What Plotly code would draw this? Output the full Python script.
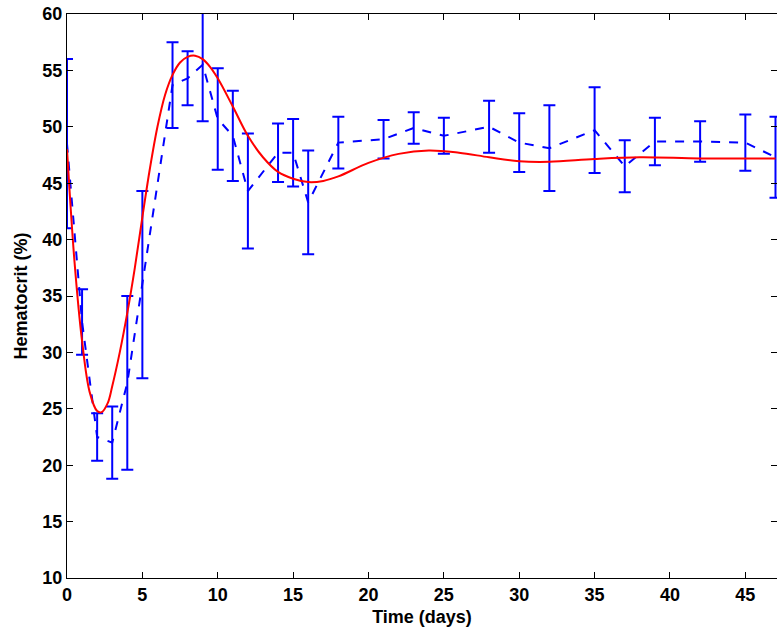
import plotly.graph_objects as go

# measured data (dashed, with error bars)
t_data = [0, 1, 2, 3, 4, 5, 7, 8, 9, 10, 11, 12, 14, 15, 16, 18, 21, 23, 25, 28, 30, 32, 35, 37, 39, 42, 45, 47]
hct_data = [48.5, 32.7, 22.5, 22.0, 27.3, 36.0, 53.7, 54.3, 55.5, 50.7, 49.2, 44.3, 47.7, 47.7, 43.3, 48.6,
            48.9, 49.9, 49.2, 50.0, 48.6, 48.1, 49.7, 46.5, 48.7, 48.7, 48.6, 47.3]
hct_err = [7.5, 2.9, 2.1, 3.2, 7.7, 8.3, 3.8, 2.4, 5.0, 4.5, 4.0, 5.1, 2.6, 3.0, 4.6, 2.3,
           1.7, 1.4, 1.6, 2.3, 2.6, 3.8, 3.8, 2.3, 2.1, 1.8, 2.5, 3.6]

# model curve
t_model = [0, 0.5, 1, 1.5, 2, 2.3, 2.7, 3, 3.5, 4, 4.5, 5, 5.5, 6, 6.5, 7, 7.5, 8, 8.5, 9, 9.5, 10, 11, 12, 13,
           14, 15, 16, 17, 18, 20, 22, 24, 26, 28, 30, 32, 35, 38, 42, 47]
hct_model = [48, 38, 31, 26.5, 24.8, 24.7, 25.5, 27, 30, 33.5, 37.5, 42, 46.3, 50, 52.8, 54.6, 55.7, 56.2, 56.3,
             56.0, 55.3, 54.3, 51.8, 49.2, 47.3, 46.0, 45.4, 45.1, 45.2, 45.6, 46.8, 47.6, 47.9, 47.7, 47.3,
             46.95, 46.9, 47.15, 47.3, 47.2, 47.2]

FONT = "Liberation Sans"

fig = go.Figure()
fig.add_trace(go.Scatter(
    x=t_data, y=hct_data, mode="lines",
    line=dict(color="#0000ff", width=2, dash="dash"),
    error_y=dict(type="data", array=hct_err, color="#0000ff", thickness=2, width=6),
))
fig.add_trace(go.Scatter(
    x=t_model, y=hct_model, mode="lines", line=dict(color="#ff0000", width=2, shape="spline"),
))

axis = dict(showline=True, linecolor="black", linewidth=1, mirror="ticks", ticks="inside",
            ticklen=6, tickcolor="black", showgrid=False, zeroline=False, automargin=False,
            tickfont=dict(family=FONT, size=18, color="black", weight="bold"))
fig.update_layout(
    width=777, height=632, showlegend=False,
    paper_bgcolor="white", plot_bgcolor="white",
    margin=dict(l=67, r=0, t=14, b=54),
    font=dict(family=FONT, color="black"),
)
fig.update_xaxes(axis, range=[0, 47.1], tickvals=list(range(0, 50, 5)),
                 title=dict(text="<b>Time (days)</b>", font=dict(family=FONT, size=18), standoff=6))
fig.update_yaxes(axis, range=[10, 60], tickvals=list(range(10, 65, 5)),
                 title=dict(text="<b>Hematocrit (%)</b>", font=dict(family=FONT, size=18), standoff=10))

# drop the default page margin so the figure fills the window
fig.write_html("out.html", config={"displayModeBar": False},
               post_script="document.body.style.margin='0';")
